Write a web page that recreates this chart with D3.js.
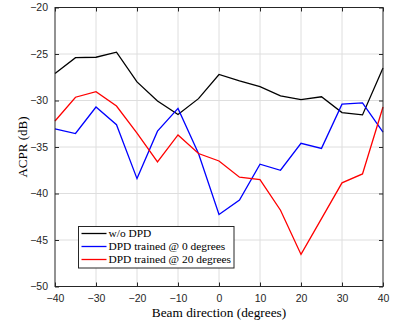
<!DOCTYPE html>
<html>
<head>
<meta charset="utf-8">
<script src="https://cdn.jsdelivr.net/npm/d3@7"></script>
<style>
  body { margin: 0; background: #fff; }
  .tick text { font-family: "Liberation Sans", Arial, sans-serif; font-size: 10.5px; fill: #262626; }
  .serif { font-family: "Liberation Serif", "Times New Roman", serif; }
</style>
</head>
<body>
<svg id="chart" width="412" height="324"></svg>
<script>
// beam directions (degrees)
var angles = [-40, -35, -30, -25, -20, -15, -10, -5, 0, 5, 10, 15, 20, 25, 30, 35, 40];

// ACPR (dB) per series
var noDpd = [-27.1, -25.4, -25.35, -24.8, -28.0, -30.05, -31.5, -29.8, -27.2, -27.9, -28.5, -29.5, -29.9, -29.6, -31.3, -31.55, -26.5];
var dpd0  = [-33.05, -33.55, -30.7, -32.6, -38.4, -33.3, -30.85, -35.7, -42.25, -40.7, -36.85, -37.5, -34.6, -35.15, -30.4, -30.25, -33.4];
var dpd20 = [-32.2, -29.65, -29.05, -30.6, -33.5, -36.6, -33.7, -35.7, -36.5, -38.25, -38.5, -41.8, -46.55, -42.7, -38.85, -37.9, -30.7];

var seriesNames = ['w/o DPD', 'DPD trained @ 0 degrees', 'DPD trained @ 20 degrees'];
var seriesColors = ['#000000', '#0000ff', '#ff0000'];

var xTicks = [-40, -30, -20, -10, 0, 10, 20, 30, 40];
var yTicks = [-50, -45, -40, -35, -30, -25, -20];

var margin = { left: 55, right: 29, top: 7.5, bottom: 37.5 },
    W = 412, H = 324,
    svg = d3.select('#chart'),
    x = d3.scaleLinear().domain([-40, 40]).range([margin.left, W - margin.right]),
    y = d3.scaleLinear().domain([-50, -20]).range([H - margin.bottom, margin.top]);

// grid
var grid = svg.append('g').attr('stroke', '#dedede').attr('stroke-width', 1);
grid.selectAll('.gx').data(xTicks.slice(1, -1)).enter().append('line')
    .attr('x1', x).attr('x2', x).attr('y1', y(-50)).attr('y2', y(-20));
grid.selectAll('.gy').data(yTicks.slice(1, -1)).enter().append('line')
    .attr('y1', y).attr('y2', y).attr('x1', x(-40)).attr('x2', x(40));

// axes, ticks pointing inward
function styleAxis( g ){
    g.select('.domain').remove();
    g.selectAll('.tick line').attr('stroke', '#262626');
}
svg.append('g').attr('transform', 'translate(0,' + y(-50) + ')')
    .call(d3.axisBottom(x).tickValues(xTicks).tickSizeInner(-4).tickSizeOuter(0).tickPadding(8))
    .call(styleAxis);
svg.append('g').attr('transform', 'translate(0,' + y(-20) + ')')
    .call(d3.axisTop(x).tickValues(xTicks).tickSizeInner(-4).tickSizeOuter(0).tickFormat(''))
    .call(styleAxis);
svg.append('g').attr('transform', 'translate(' + x(-40) + ',0)')
    .call(d3.axisLeft(y).tickValues(yTicks).tickSizeInner(-4).tickSizeOuter(0).tickPadding(7))
    .call(styleAxis);
svg.append('g').attr('transform', 'translate(' + x(40) + ',0)')
    .call(d3.axisRight(y).tickValues(yTicks).tickSizeInner(-4).tickSizeOuter(0).tickFormat(''))
    .call(styleAxis);

// lines
var line = d3.line().x(function( d, i ){ return x(angles[i]); }).y(function( d ){ return y(d); });
[noDpd, dpd0, dpd20].forEach(function( s, i ){
    svg.append('path').datum(s)
        .attr('d', line)
        .attr('fill', 'none')
        .attr('stroke', seriesColors[i])
        .attr('stroke-width', 1.3);
});

// box
svg.append('rect')
    .attr('x', x(-40)).attr('y', y(-20))
    .attr('width', x(40) - x(-40)).attr('height', y(-50) - y(-20))
    .attr('fill', 'none').attr('stroke', '#262626').attr('stroke-width', 1);

// axis labels
svg.append('text').attr('class', 'serif')
    .attr('x', (x(-40) + x(40)) / 2).attr('y', 317)
    .attr('text-anchor', 'middle').attr('font-size', 13.3)
    .text('Beam direction (degrees)');
svg.append('text').attr('class', 'serif')
    .attr('transform', 'translate(27,' + (y(-35)) + ') rotate(-90)')
    .attr('text-anchor', 'middle').attr('font-size', 13)
    .text('ACPR (dB)');

// legend
var lg = svg.append('g').attr('transform', 'translate(78.5,226.5)');
lg.append('rect').attr('width', 155.5).attr('height', 41.5)
    .attr('fill', '#fff').attr('stroke', '#262626').attr('stroke-width', 1);
seriesNames.forEach(function( name, i ){
    var cy = 7 + i * 13;
    lg.append('line').attr('x1', 3).attr('x2', 28).attr('y1', cy).attr('y2', cy)
        .attr('stroke', seriesColors[i]).attr('stroke-width', 1.3);
    lg.append('text').attr('class', 'serif')
        .attr('x', 30).attr('y', cy + 3.8).attr('font-size', 11.4)
        .attr('fill', '#000')
        .text(name);
});
</script>
</body>
</html>
